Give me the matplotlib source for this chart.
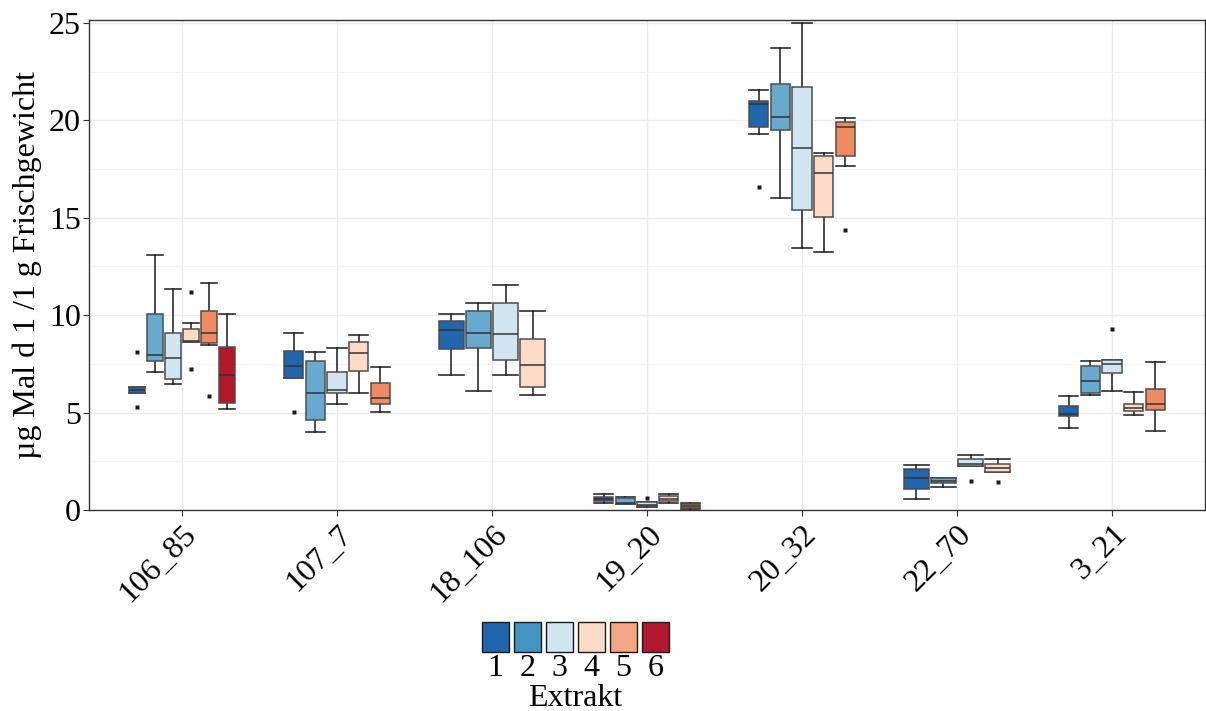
import matplotlib.pyplot as plt
from matplotlib.patches import Rectangle

plt.rcParams['font.family'] = ['Liberation Serif', 'DejaVu Serif']

categories = ['106_85', '107_7', '18_106', '19_20', '20_32', '22_70', '3_21']
extrakte = ['1', '2', '3', '4', '5', '6']
box_colors = ['#2166AC', '#67A9CF', '#D1E5F0', '#FDDBC7', '#EF8A62', '#B2182B']
key_colors = ['#2166AC', '#4393C3', '#D1E5F0', '#FDDBC7', '#F4A582', '#B2182B']

# rows: extract, lower whisker, q1, median, q3, upper whisker
box_106_85 = [
    (1, 6.02, 6.02, 6.17, 6.33, 6.33),
    (2, 7.08, 7.65, 7.97, 10.08, 13.09),
    (3, 6.47, 6.71, 7.79, 9.07, 11.33),
    (4, 8.61, 8.61, 8.68, 9.31, 9.60),
    (5, 8.45, 8.59, 9.09, 10.20, 11.65),
    (6, 5.20, 5.51, 6.95, 8.38, 10.08),
]
box_107_7 = [
    (1, 6.78, 6.78, 7.38, 8.15, 9.09),
    (2, 4.00, 4.60, 6.00, 7.63, 8.13),
    (3, 5.46, 6.02, 6.16, 7.08, 8.32),
    (4, 6.02, 7.15, 8.04, 8.64, 8.97),
    (5, 5.01, 5.46, 5.77, 6.52, 7.33),
]
box_18_106 = [
    (1, 6.95, 8.26, 9.26, 9.70, 10.05),
    (2, 6.09, 8.33, 9.10, 10.20, 10.64),
    (3, 6.95, 7.72, 9.03, 10.64, 11.53),
    (4, 5.89, 6.33, 7.46, 8.76, 10.22),
]
box_19_20 = [
    (1, 0.37, 0.45, 0.56, 0.68, 0.81),
    (2, 0.31, 0.33, 0.37, 0.62, 0.65),
    (3, 0.15, 0.21, 0.28, 0.41, 0.41),
    (4, 0.35, 0.45, 0.56, 0.70, 0.81),
    (5, 0.05, 0.08, 0.18, 0.30, 0.34),
]
box_20_32 = [
    (1, 19.29, 19.68, 20.84, 20.98, 21.54),
    (2, 16.03, 19.49, 20.16, 21.85, 23.72),
    (3, 13.46, 15.40, 18.57, 21.71, 24.98),
    (4, 13.24, 15.02, 17.28, 18.17, 18.34),
    (5, 17.67, 18.17, 19.68, 19.90, 20.11),
]
box_22_70 = [
    (1, 0.56, 1.08, 1.63, 2.12, 2.33),
    (2, 1.20, 1.37, 1.50, 1.64, 1.64),
    (3, 2.27, 2.27, 2.35, 2.62, 2.82),
    (4, 1.95, 1.95, 2.16, 2.35, 2.63),
]
box_3_21 = [
    (1, 4.23, 4.83, 4.95, 5.32, 5.84),
    (2, 5.89, 6.02, 6.64, 7.38, 7.65),
    (3, 6.09, 7.02, 7.48, 7.70, 7.70),
    (4, 4.89, 5.07, 5.25, 5.46, 6.04),
    (5, 4.07, 5.13, 5.46, 6.20, 7.58),
]

# outlying points: extract, value
out_106_85 = [(1, 8.11), (1, 5.27), (4, 11.19), (4, 7.22), (5, 5.87)]
out_107_7 = [(1, 5.01)]
out_18_106 = []
out_19_20 = [(3, 0.60)]
out_20_32 = [(1, 16.60), (5, 14.36)]
out_22_70 = [(3, 1.50), (4, 1.44)]
out_3_21 = [(3, 9.31)]

boxes = [box_106_85, box_107_7, box_18_106, box_19_20, box_20_32, box_22_70, box_3_21]
outliers = [out_106_85, out_107_7, out_18_106, out_19_20, out_20_32, out_22_70, out_3_21]

FS = 23
W, H = 1206, 711
fig = plt.figure(figsize=(W / 100, H / 100), dpi=100)
ax = fig.add_axes([89 / W, 1 - 510 / H, (1205 - 89) / W, (510 - 20) / H])

edge = '#4d4d4d'
dodge = 0.7
for i, (rows, outs) in enumerate(zip(boxes, outliers), start=1):
    n = len(rows)
    slot = dodge / n
    stats, pos, cols = [], [], []
    for k, (ext, lo, q1, med, q3, hi) in enumerate(rows):
        stats.append(dict(whislo=lo, q1=q1, med=med, q3=q3, whishi=hi,
                          fliers=[v for e, v in outs if e == ext]))
        pos.append(i + (k - (n - 1) / 2) * slot)
        cols.append(box_colors[ext - 1])
    w = [slot * 0.9] * n
    bp = ax.bxp(stats, positions=pos, widths=w, capwidths=w, patch_artist=True,
                manage_ticks=False, showfliers=True,
                boxprops=dict(edgecolor=edge, linewidth=1.1),
                whiskerprops=dict(color='#1a1a1a', linewidth=1.1),
                capprops=dict(color='#1a1a1a', linewidth=1.1),
                medianprops=dict(color='#333333', linewidth=1.1),
                flierprops=dict(marker='s', markersize=2.3, markerfacecolor='#1a1a1a',
                                markeredgecolor='none'))
    for patch, c in zip(bp['boxes'], cols):
        patch.set_facecolor(c)
        patch.set_zorder(3)
    for key in ('whiskers', 'caps', 'medians', 'fliers'):
        for ln in bp[key]:
            ln.set_zorder(2 if key in ('whiskers', 'caps') else 4)

ax.set_xlim(0.4, 7.6)
ax.set_ylim(0, 25.15)
ax.set_xticks(range(1, len(categories) + 1))
ax.set_xticklabels(categories, rotation=45, ha='right', va='top',
                   rotation_mode='anchor', fontsize=FS)
ax.set_yticks([0, 5, 10, 15, 20, 25])
ax.set_yticks([2.5, 7.5, 12.5, 17.5, 22.5], minor=True)
ax.tick_params(axis='y', labelsize=FS, length=4, color='#333333', pad=2)
ax.tick_params(axis='x', length=4, color='#333333', pad=3)
ax.tick_params(axis='y', which='minor', length=0)
ax.grid(True, which='major', color='#ebebeb', linewidth=1.0, zorder=0)
ax.grid(True, which='minor', axis='y', color='#f2f2f2', linewidth=0.6, zorder=0)
ax.set_axisbelow(True)
for sp in ax.spines.values():
    sp.set_color('#333333')
    sp.set_linewidth(1.0)
ax.set_ylabel('µg Mal d 1 /1 g Frischgewicht', fontsize=FS)
ax.yaxis.set_label_coords((42 - 89) / (1205 - 89), 0.5)

# legend under the plot: keys in a row, labels below, title at bottom
kx0, kstep, kw = 482, 31.9, 27.3
ktop, kbot = 622, 651.5
for j, (lab, c) in enumerate(zip(extrakte, key_colors)):
    x0 = kx0 + j * kstep
    fig.patches.append(Rectangle((x0 / W, 1 - kbot / H), kw / W, (kbot - ktop) / H,
                                 transform=fig.transFigure, facecolor=c,
                                 edgecolor='#1a1a1a', linewidth=1.0))
    fig.text((x0 + kw / 2) / W, 1 - 668 / H, lab, ha='center', va='center', fontsize=FS)
fig.text((kx0 + (5 * kstep + kw) / 2) / W, 1 - 698 / H, 'Extrakt',
         ha='center', va='center', fontsize=FS)

fig.savefig('out.png', dpi=100)
